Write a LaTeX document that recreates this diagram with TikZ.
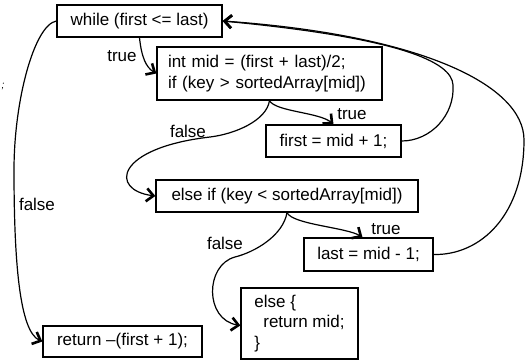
\documentclass[tikz,border=0pt]{standalone}
\usepackage{fontspec}
\setmainfont{Liberation Sans}
\usetikzlibrary{arrows.meta}
\begin{document}
\begin{tikzpicture}[x=1pt,y=-1pt,
  font=\fontsize{17}{20.5}\selectfont,
  box/.style={draw, line width=1.3pt, rectangle, inner sep=0pt, align=center},
  codebox/.style={box, align=left},
  flow/.style={line width=1.2pt, -{Straight Barb[length=7pt,width=13pt,line width=2.6pt]}},
  lbl/.style={inner sep=0pt}]
\useasboundingbox (0,0) rectangle (525,364);

% statements of the binary search
\node[box, minimum width=165pt, minimum height=32pt] (loop) at (139.5,21) {while (first <= last)};
\node[codebox, text width=203pt, inner xsep=11pt, minimum height=53pt] (calc) at (269.5,73.5)
  {int mid = (first + last)/2;\\if (key > sortedArray[mid])};
\node[box, minimum width=135pt, minimum height=32pt] (inc) at (333.5,141) {first = mid + 1;};
\node[box, minimum width=262pt, minimum height=32pt] (test2) at (287,196) {else if (key < sortedArray[mid])};
\node[box, minimum width=129pt, minimum height=33pt] (dec) at (368.5,254.5) {last = mid - 1;};
\node[codebox, minimum width=117pt, minimum height=71pt] (found) at (299.5,323.5)
  {else \{\\\hspace*{9pt}return mid;\\\}};
\node[box, minimum width=159pt, minimum height=31pt] (done) at (122.5,341.5) {return –(first + 1);};

% stray fragment at the left edge
\node[lbl, font=\fontsize{10}{12}\selectfont\itshape] (frag) at (3,86) {;};

% control flow
\draw[flow] (loop.south) .. controls +(2,20) and +(-10,-6) .. (calc.west);
\node[lbl] (t1) at (122,56) {true};

\draw[flow] (calc.south) .. controls +(6,11) and +(-14,-12) .. (inc.north);
\node[lbl] (t2) at (352,114) {true};

\draw[flow] (calc.south) .. controls +(-3,20) and +(25,-3) .. (210,137)
  .. controls +(-95,11) and +(-46,-6) .. (test2.west);
\node[lbl] (f1) at (188,131) {false};

\draw[flow] (test2.south) .. controls +(6,12) and +(-16,-10) .. ([xshift=-6pt]dec.north);
\node[lbl] (t3) at (386,229) {true};

\draw[flow] (test2.south) .. controls +(-4,23) and +(20,-5) .. (235,257)
  .. controls +(-30,8) and +(-36,-6) .. ([yshift=-2pt]found.west);
\node[lbl] (f2) at (225,243) {false};

\draw[flow] (loop.west) .. controls +(-22,4) and +(0,-70) .. (14,170)
  .. controls +(0,90) and +(-23,-10) .. (done.west);
\node[lbl] (f3) at (37,204) {false};

% back edges to the loop head
\draw[flow] (inc.east) .. controls +(29,0) and +(2,30) .. (453,85)
  .. controls +(-1,-23) and +(178,17) .. (loop.east);
\draw[flow] (dec.east) .. controls +(47,1) and +(0,75) .. (524,140)
  .. controls +(0,-55) and +(198,14) .. (loop.east);
\end{tikzpicture}
\end{document}
